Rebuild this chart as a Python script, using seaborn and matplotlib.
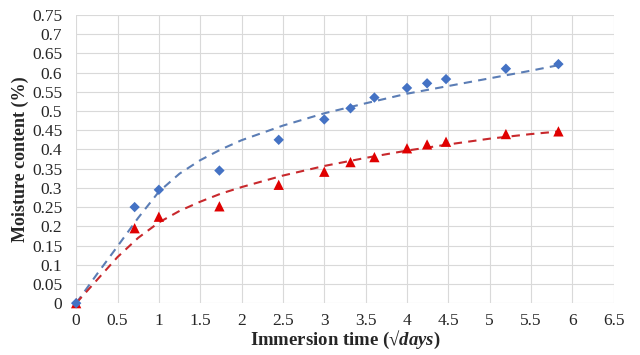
import numpy as np
import pandas as pd
import matplotlib
matplotlib.use("Agg")
import matplotlib.pyplot as plt
import seaborn as sns

# measured points (x in sqrt(days))
sqrt_days = [0, 0.707, 1, 1.732, 2.449, 3, 3.317, 3.606, 4, 4.243, 4.472, 5.196, 5.831]
blue_vals = [0, 0.25, 0.295, 0.345, 0.425, 0.478, 0.507, 0.535, 0.56, 0.572, 0.583, 0.61, 0.622]
red_vals = [0, 0.195, 0.225, 0.252, 0.308, 0.342, 0.367, 0.38, 0.403, 0.413, 0.42, 0.44, 0.447]

# fitted (dashed) curves
fit_x = [0, 0.25, 0.5, 0.75, 1, 1.25, 1.5, 1.75, 2, 2.5, 3, 3.5, 4, 4.5, 5, 5.5, 5.85]
blue_fit = [0, 0.075, 0.148, 0.222, 0.29, 0.337, 0.372, 0.40, 0.424, 0.462, 0.494, 0.52, 0.545, 0.565, 0.585, 0.605, 0.62]
red_fit = [0, 0.06, 0.12, 0.17, 0.21, 0.24, 0.264, 0.285, 0.302, 0.332, 0.357, 0.378, 0.397, 0.413, 0.428, 0.44, 0.447]

x_ticks = [0, 0.5, 1, 1.5, 2, 2.5, 3, 3.5, 4, 4.5, 5, 5.5, 6, 6.5]
y_ticks = [0, 0.05, 0.1, 0.15, 0.2, 0.25, 0.3, 0.35, 0.4, 0.45, 0.5, 0.55, 0.6, 0.65, 0.7, 0.75]

sns.set_style("whitegrid", {"grid.color": "#d9d9d9"})
plt.rcParams["font.family"] = ["Liberation Serif", "DejaVu Serif"]
plt.rcParams["mathtext.fontset"] = "custom"
plt.rcParams["mathtext.it"] = "Liberation Serif:italic:bold"
plt.rcParams["mathtext.rm"] = "Liberation Serif:bold"

fig, ax = plt.subplots(figsize=(6.4, 3.55), dpi=100)
fig.subplots_adjust(left=0.119, right=0.959, top=0.958, bottom=0.146)

pts = pd.DataFrame({"x": sqrt_days, "blue": blue_vals, "red": red_vals})
fit = pd.DataFrame({"x": fit_x, "blue": blue_fit, "red": red_fit})

sns.lineplot(data=fit, x="x", y="blue", ax=ax, color="#5b7db5", lw=1.5,
             linestyle=(0, (4, 3)), zorder=2)
sns.lineplot(data=fit, x="x", y="red", ax=ax, color="#c8282c", lw=1.5,
             linestyle=(0, (4, 3)), zorder=2)
sns.scatterplot(data=pts, x="x", y="red", ax=ax, marker="^", s=55,
                color="#e00000", edgecolor="none", zorder=3, clip_on=False)
sns.scatterplot(data=pts, x="x", y="blue", ax=ax, marker="D", s=28,
                color="#4472c4", edgecolor="none", zorder=4, clip_on=False)

ax.set_xlim(0, 6.5)
ax.set_ylim(0, 0.75)
ax.set_xticks(x_ticks)
ax.set_xticklabels([f"{v:g}" for v in x_ticks])
ax.set_yticks(y_ticks)
ax.set_yticklabels([f"{v:g}" for v in y_ticks])
ax.tick_params(labelsize=12.5, length=0, colors="#262626")
ax.tick_params(axis="y", pad=10)
ax.tick_params(axis="x", pad=7)
for s in ax.spines.values():
    s.set_visible(False)
ax.grid(True, color="#d9d9d9", lw=0.8)

ax.set_xlabel("Immersion time (√$days$)", fontsize=13.5, fontweight="bold", labelpad=0)
ax.set_ylabel("Moisture content (%)", fontsize=13, fontweight="bold", labelpad=2)

fig.savefig("out.png", dpi=100)
